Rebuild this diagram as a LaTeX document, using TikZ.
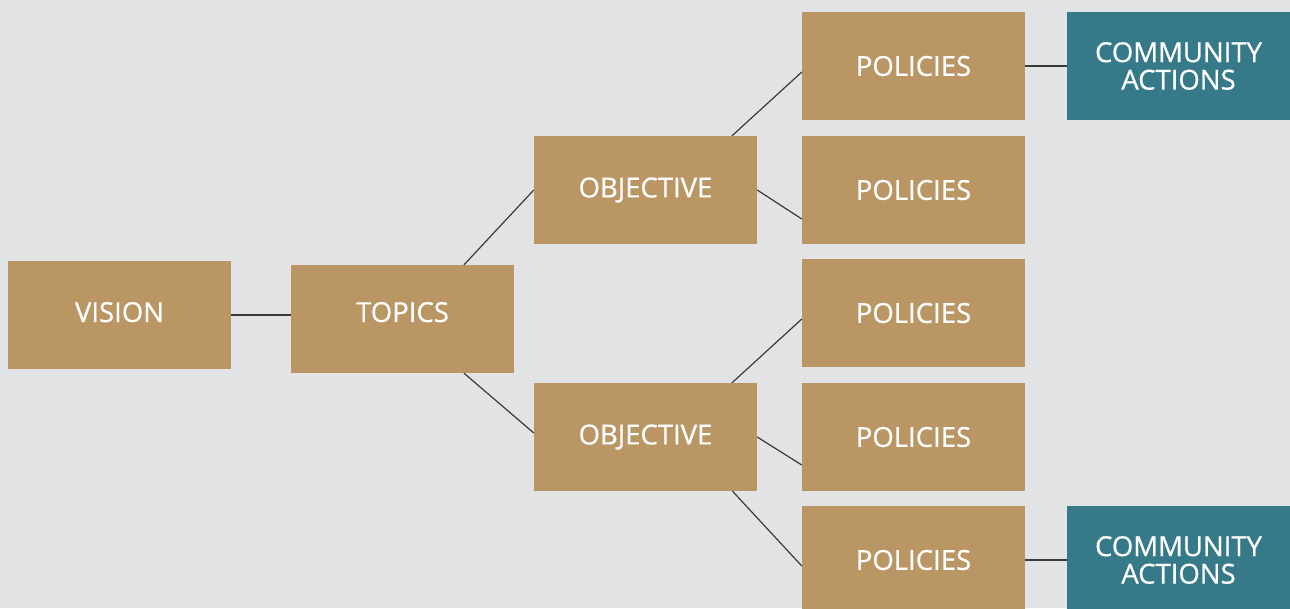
\documentclass[tikz,border=0pt]{standalone}
\usepackage{fontspec}
\setmainfont{Open Sans}
\usetikzlibrary{calc}
\definecolor{bgrey}{HTML}{E2E3E5}
\definecolor{tan}{HTML}{BB9665}
\definecolor{teal}{HTML}{367A8A}
\definecolor{wire}{HTML}{3A3A3A}
\newcommand{\boxw}{223pt}
\newcommand{\boxh}{108pt}

\begin{document}
\begin{tikzpicture}[x=1pt,y=-1pt,
    blk/.style={fill=tan, text=white, minimum width=\boxw, minimum height=\boxh,
      inner sep=0pt, align=center,
      font=\fontsize{27.5}{27.5}\selectfont\addfontfeature{FakeBold=0.6}},
    act/.style={blk, fill=teal},
    wire/.style={draw=wire, line width=1.2pt},
    thick wire/.style={draw=wire, line width=2.4pt}]
      %%  background and frame %%
      \fill[bgrey] (0,0) rectangle (1290,608);
      \useasboundingbox (0,0) rectangle (1290,608);
      \begin{scope}
      \clip (0,0) rectangle (1290,608);

      \node (v) at (119.5,315) [blk, text depth=6pt] {VISION};
      \node (t) at (402.5,319) [blk, text depth=14pt] {TOPICS};
      \node (o1) at (645.5,190) [blk] {OBJECTIVE};
      \node (o2) at (645.5,437) [blk] {OBJECTIVE};

      \foreach \i/\y in {1/66,2/190,3/313,4/437,5/560}
      { \node (p\i) at (913.5,\y) [blk] {POLICIES};}

      \foreach \i/\y in {1/66,5/560}
      { \node (c\i) at (1178.5,\y) [act] {COMMUNITY\\ACTIONS};}

      \draw[wire] (v.east) to (v.east -| t.west);
      \draw[wire] ([xshift=61.5pt]t.north) to (o1.west);
      \draw[wire] ([xshift=61.5pt]t.south) to ([yshift=4pt]o2.west);

      \draw[wire] ([xshift=86.5pt]o1.north) to ([yshift=-6pt]p1.west);
      \draw[wire] (o1.east) to ([yshift=-29pt]p2.west);
      \draw[wire] ([xshift=86.5pt]o2.north) to ([yshift=-6pt]p3.west);
      \draw[wire] (o2.east) to ([yshift=-28pt]p4.west);
      \draw[wire] ([xshift=87pt]o2.south) to ([yshift=-6pt]p5.west);

      \draw[thick wire] (p1) to (c1);
      \draw[thick wire] (p5) to (c5);
      \end{scope}
\end{tikzpicture}
\end{document}
